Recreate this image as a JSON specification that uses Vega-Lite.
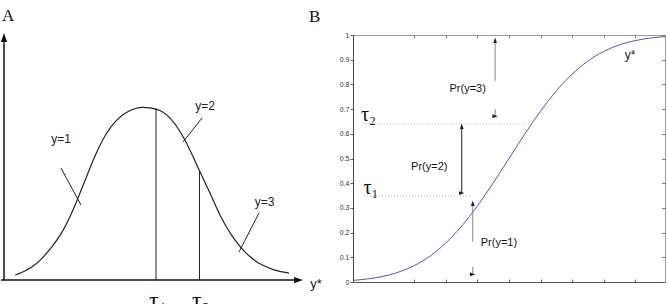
{
  "$schema": "https://vega.github.io/schema/vega-lite/v6.json",
  "padding": 0,
  "autosize": {"type": "pad"},
  "background": "white",
  "bounds": "flush",
  "spacing": 34,
  "config": {"view": {"stroke": null}, "font": "Liberation Sans"},
  "datasets": {
    "curveA": [{"z":-2.486,"d":0.0117},{"z":-2.373,"d":0.0163},{"z":-2.184,"d":0.0279},{"z":-1.995,"d":0.0463},{"z":-1.807,"d":0.0739},{"z":-1.618,"d":0.1038},{"z":-1.429,"d":0.1499},{"z":-1.297,"d":0.189},{"z":-1.146,"d":0.2351},{"z":-0.958,"d":0.2927},{"z":-0.769,"d":0.3387},{"z":-0.58,"d":0.3686},{"z":-0.392,"d":0.387},{"z":-0.203,"d":0.3962},{"z":-0.071,"d":0.3986},{"z":0.08,"d":0.3962},{"z":0.269,"d":0.3916},{"z":0.457,"d":0.3731},{"z":0.646,"d":0.341},{"z":0.835,"d":0.2949},{"z":1.005,"d":0.2489},{"z":1.212,"d":0.1959},{"z":1.401,"d":0.143},{"z":1.59,"d":0.1038},{"z":1.778,"d":0.0739},{"z":1.967,"d":0.0509},{"z":2.156,"d":0.0348},{"z":2.439,"d":0.021},{"z":2.684,"d":0.0163}],
    "axesA": [{"z":-2.75,"d":0,"z2":2.8,"d2":0},{"z":-2.693,"d":0,"z2":-2.693,"d2":0.548}],
    "linesA": [{"z":0.175,"d":0,"z2":0.175,"d2":0.395},{"z":0.995,"d":0,"z2":0.995,"d2":0.2512},{"z":-1.618,"d":0.2581,"z2":-1.241,"d2":0.1729},{"z":1.042,"d":0.3732,"z2":0.684,"d2":0.318},{"z":2.118,"d":0.1546,"z2":1.741,"d2":0.0648}],
    "headsA": [{"z":2.863,"d":0,"dir":"right"},{"z":-2.693,"d":0.5586,"dir":"up"}],
    "labelsA": [{"z":-1.618,"d":0.3247,"t":"y=1"},{"z":1.099,"d":0.4008,"t":"y=2"},{"z":2.222,"d":0.1798,"t":"y=3"}],
    "curveB": [{"x":0,"p":0.0062},{"x":0.5,"p":0.0122},{"x":1,"p":0.0228},{"x":1.5,"p":0.0401},{"x":2,"p":0.0668},{"x":2.5,"p":0.1056},{"x":3,"p":0.1587},{"x":3.5,"p":0.2266},{"x":4,"p":0.3085},{"x":4.5,"p":0.4013},{"x":5,"p":0.5},{"x":5.5,"p":0.5987},{"x":6,"p":0.6915},{"x":6.5,"p":0.7734},{"x":7,"p":0.8413},{"x":7.5,"p":0.8944},{"x":8,"p":0.9332},{"x":8.5,"p":0.9599},{"x":9,"p":0.9772},{"x":9.5,"p":0.9878},{"x":10,"p":0.9938}],
    "tauB": [{"x":0.36,"x2":5.72,"p":0.64},{"x":0.4,"x2":3.75,"p":0.348}],
    "shaftLight": [{"x":4.56,"p":0.814,"p2":0.975},{"x":4.56,"p":0.668,"p2":0.7},{"x":3.85,"p":0.163,"p2":0.318},{"x":3.85,"p":0.03,"p2":0.062}],
    "shaftDark": [{"x":3.5,"p":0.36,"p2":0.63}],
    "headsB": [{"x":4.56,"p":0.979,"dir":"up"},{"x":4.56,"p":0.671,"dir":"down"},{"x":3.5,"p":0.631,"dir":"up"},{"x":3.5,"p":0.36,"dir":"down"},{"x":3.85,"p":0.319,"dir":"up"},{"x":3.85,"p":0.031,"dir":"down"}],
    "prB": [{"x":3.69,"p":0.783,"t":"Pr(y=3)"},{"x":2.47,"p":0.466,"t":"Pr(y=2)"},{"x":4.68,"p":0.156,"t":"Pr(y=1)"}],
    "tauLabB": [{"x":0.542,"p":0.652,"t":"τ₂"},{"x":0.621,"p":0.356,"t":"τ₁"}]
  },
  "hconcat": [
    {
      "width": 318,
      "height": 304,
      "layer": [
        {
          "data": {"name": "axesA"},
          "mark": {"type": "rule", "color": "#111", "strokeWidth": 1.5},
          "encoding": {
            "x": {"field": "z", "type": "quantitative", "scale": {"domain": [-2.75, 3.25], "nice": false, "zero": false}, "axis": null},
            "y": {"field": "d", "type": "quantitative", "scale": {"domain": [-0.055, 0.645], "nice": false, "zero": false}, "axis": null},
            "x2": {"field": "z2"},
            "y2": {"field": "d2"}
          }
        },
        {
          "data": {"name": "headsA"},
          "mark": {"type": "point", "filled": true, "color": "#111", "opacity": 1, "size": 81},
          "encoding": {
            "x": {"field": "z", "type": "quantitative"},
            "y": {"field": "d", "type": "quantitative"},
            "shape": {"field": "dir", "type": "nominal", "scale": {"domain": ["right", "up"], "range": ["M1,0L-1,-0.7L-1,0.7Z", "M0,-1L-0.7,1L0.7,1Z"]}, "legend": null}
          }
        },
        {
          "data": {"name": "curveA"},
          "mark": {"type": "line", "color": "#222", "strokeWidth": 1.2, "interpolate": "basis"},
          "encoding": {
            "x": {"field": "z", "type": "quantitative"},
            "y": {"field": "d", "type": "quantitative"}
          }
        },
        {
          "data": {"name": "linesA"},
          "mark": {"type": "rule", "color": "#222", "strokeWidth": 1},
          "encoding": {
            "x": {"field": "z", "type": "quantitative"},
            "y": {"field": "d", "type": "quantitative"},
            "x2": {"field": "z2"},
            "y2": {"field": "d2"}
          }
        },
        {
          "data": {"name": "labelsA"},
          "mark": {"type": "text", "fontSize": 12, "color": "#222", "baseline": "middle", "align": "center"},
          "encoding": {
            "x": {"field": "z", "type": "quantitative"},
            "y": {"field": "d", "type": "quantitative"},
            "text": {"field": "t"}
          }
        },
        {
          "data": {"values": [{"z": 3.193, "d": -0.009, "t": "y*"}]},
          "mark": {"type": "text", "fontSize": 13, "color": "#222", "baseline": "middle", "align": "center"},
          "encoding": {
            "x": {"field": "z", "type": "quantitative"},
            "y": {"field": "d", "type": "quantitative"},
            "text": {"field": "t"}
          }
        },
        {
          "data": {"values": [{"z": 0.212, "d": -0.0642, "t": "τ₁"}, {"z": 1.024, "d": -0.0642, "t": "τ₂"}]},
          "mark": {"type": "text", "fontSize": 24, "font": "Liberation Serif", "color": "#111", "baseline": "alphabetic", "align": "center"},
          "encoding": {
            "x": {"field": "z", "type": "quantitative"},
            "y": {"field": "d", "type": "quantitative"},
            "text": {"field": "t"}
          }
        },
        {
          "data": {"values": [{"z": -2.731, "d": 0.5966, "t": "A"}]},
          "mark": {"type": "text", "fontSize": 17, "font": "Liberation Serif", "color": "#111", "baseline": "alphabetic", "align": "left"},
          "encoding": {
            "x": {"field": "z", "type": "quantitative"},
            "y": {"field": "d", "type": "quantitative"},
            "text": {"field": "t"}
          }
        }
      ]
    },
    {
      "bounds": "flush",
      "spacing": 0,
      "vconcat": [
        {
          "width": 312,
          "height": 35,
          "data": {"values": [{"x": -1.346, "p": 0.371, "t": "B"}]},
          "mark": {"type": "text", "fontSize": 17, "font": "Liberation Serif", "color": "#111", "baseline": "alphabetic", "align": "left"},
          "encoding": {
            "x": {"field": "x", "type": "quantitative", "scale": {"domain": [0.05, 9.95], "nice": false, "zero": false}, "axis": null},
            "y": {"field": "p", "type": "quantitative", "scale": {"domain": [0, 1], "nice": false}, "axis": null},
            "text": {"field": "t"}
          }
        },
        {
          "width": 312,
          "height": 247,
          "resolve": {"axis": {"x": "independent", "y": "independent"}},
          "layer": [
            {
              "data": {"name": "curveB"},
              "mark": {"type": "line", "color": "#5656b8", "strokeWidth": 1, "interpolate": "monotone", "clip": true},
              "encoding": {
                "x": {"field": "x", "type": "quantitative", "scale": {"domain": [0.05, 9.95], "nice": false, "zero": false}, "axis": {"orient": "bottom", "values": [2, 3, 4, 5, 6, 7, 8, 9], "labels": false, "tickSize": -3, "domainColor": "#555", "tickColor": "#666", "grid": false, "title": null}},
                "y": {"field": "p", "type": "quantitative", "scale": {"domain": [0, 1], "nice": false, "zero": false}, "axis": {"orient": "left", "values": [0, 0.1, 0.2, 0.3, 0.4, 0.5, 0.6, 0.7, 0.8, 0.9, 1], "format": "~g", "labelFontSize": 7, "labelColor": "#333", "tickSize": 3, "labelPadding": 1, "domainColor": "#444", "tickColor": "#555", "grid": false, "title": null}}
              }
            },
            {
              "data": {"name": "tauB"},
              "mark": {"type": "rule", "color": "#aaa", "strokeWidth": 1, "strokeDash": [1, 2]},
              "encoding": {
                "x": {"field": "x", "type": "quantitative", "scale": {"domain": [0.05, 9.95], "nice": false, "zero": false}, "axis": {"orient": "top", "values": [2, 3, 4, 5, 6, 7, 8, 9], "labels": false, "tickSize": -3, "domainColor": "#999", "tickColor": "#888", "grid": false, "title": null}},
                "x2": {"field": "x2"},
                "y": {"field": "p", "type": "quantitative", "scale": {"domain": [0, 1], "nice": false, "zero": false}, "axis": {"orient": "right", "values": [0, 0.1, 0.2, 0.3, 0.4, 0.5, 0.6, 0.7, 0.8, 0.9, 1], "labels": false, "tickSize": -3, "domainColor": "#999", "tickColor": "#666", "grid": false, "title": null}}
              }
            },
            {
              "data": {"name": "shaftLight"},
              "mark": {"type": "rule", "color": "#888", "strokeWidth": 1},
              "encoding": {
                "x": {"field": "x", "type": "quantitative", "scale": {"domain": [0.05, 9.95], "nice": false, "zero": false}, "axis": null},
                "y": {"field": "p", "type": "quantitative", "scale": {"domain": [0, 1], "nice": false, "zero": false}, "axis": null},
                "y2": {"field": "p2"}
              }
            },
            {
              "data": {"name": "shaftDark"},
              "mark": {"type": "rule", "color": "#222", "strokeWidth": 1},
              "encoding": {
                "x": {"field": "x", "type": "quantitative", "scale": {"domain": [0.05, 9.95], "nice": false, "zero": false}, "axis": null},
                "y": {"field": "p", "type": "quantitative", "scale": {"domain": [0, 1], "nice": false, "zero": false}, "axis": null},
                "y2": {"field": "p2"}
              }
            },
            {
              "data": {"name": "headsB"},
              "mark": {"type": "point", "filled": true, "color": "#222", "opacity": 1, "size": 30},
              "encoding": {
                "x": {"field": "x", "type": "quantitative", "scale": {"domain": [0.05, 9.95], "nice": false, "zero": false}, "axis": null},
                "y": {"field": "p", "type": "quantitative", "scale": {"domain": [0, 1], "nice": false, "zero": false}, "axis": null},
                "shape": {"field": "dir", "type": "nominal", "scale": {"domain": ["up", "down"], "range": ["M0,-1L0.7,1L0,0.4L-0.7,1Z", "M0,1L0.7,-1L0,-0.4L-0.7,-1Z"]}, "legend": null}
              }
            },
            {
              "data": {"name": "prB"},
              "mark": {"type": "text", "fontSize": 11, "color": "#111", "baseline": "middle", "align": "center"},
              "encoding": {
                "x": {"field": "x", "type": "quantitative", "scale": {"domain": [0.05, 9.95], "nice": false, "zero": false}, "axis": null},
                "y": {"field": "p", "type": "quantitative", "scale": {"domain": [0, 1], "nice": false, "zero": false}, "axis": null},
                "text": {"field": "t"}
              }
            },
            {
              "data": {"name": "tauLabB"},
              "mark": {"type": "text", "fontSize": 20, "font": "Liberation Serif", "color": "#111", "baseline": "alphabetic", "align": "center"},
              "encoding": {
                "x": {"field": "x", "type": "quantitative", "scale": {"domain": [0.05, 9.95], "nice": false, "zero": false}, "axis": null},
                "y": {"field": "p", "type": "quantitative", "scale": {"domain": [0, 1], "nice": false, "zero": false}, "axis": null},
                "text": {"field": "t"}
              }
            },
            {
              "data": {"values": [{"x": 8.84, "p": 0.919, "t": "y*"}]},
              "mark": {"type": "text", "fontSize": 12, "color": "#222", "baseline": "middle", "align": "center"},
              "encoding": {
                "x": {"field": "x", "type": "quantitative", "scale": {"domain": [0.05, 9.95], "nice": false, "zero": false}, "axis": null},
                "y": {"field": "p", "type": "quantitative", "scale": {"domain": [0, 1], "nice": false, "zero": false}, "axis": null},
                "text": {"field": "t"}
              }
            }
          ]
        }
      ]
    }
  ]
}
